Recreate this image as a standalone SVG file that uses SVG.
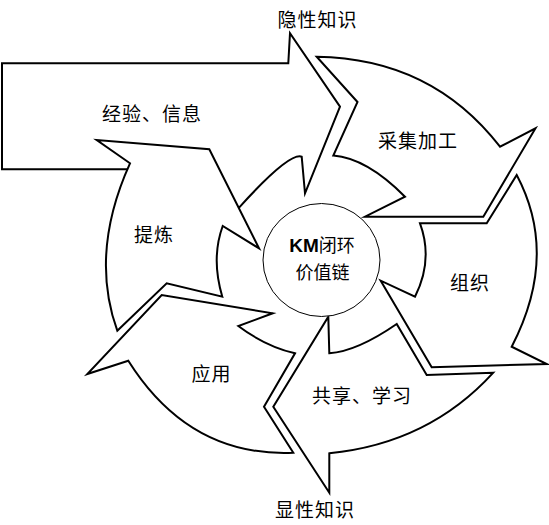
<svg xmlns="http://www.w3.org/2000/svg" width="549" height="525" viewBox="0 0 549 525">
<style>
.arrow{fill:#fff;stroke:#000;stroke-width:2;stroke-linejoin:miter;stroke-miterlimit:10}
.hub{fill:#fff;stroke:#000;stroke-width:1}
.label{font-family:"Noto Sans CJK SC","Noto Sans",sans-serif;font-size:19px;text-anchor:middle;fill:#000;letter-spacing:1px}
.hubtext{font-size:18px;letter-spacing:0}
.km{font-family:"Liberation Sans",Arial,sans-serif;font-weight:bold;font-size:19px}
</style>
<rect x="0" y="0" width="549" height="525" fill="#fff"/>
<g id="node-jingyan">
<path class="arrow" d="M2,63.3 L288.3,63.3 L290,33.3 L340,106.7 L305,193.3 L301.7,156.7 Q289.5,152 239.3,207.3 L150,169.3 L2,169.3 Z"/>
<text class="label" x="152" y="120.5">经验、信息</text>
</g>
<g id="node-tilian">
<path class="arrow" d="M117.3,330.7 L166.7,283.3 L222.3,296.7 Q210.9,258.65 222.7,226 L259,248.3 L209.3,149.3 L96.7,140 L130,163.3 Q89.35,253 117.3,330.7 Z"/>
<text class="label" x="154" y="242">提炼</text>
</g>
<g id="node-caiji">
<path class="arrow" d="M316.7,56.7 Q431.65,58.3 500,146.7 L535.5,128.3 L483.3,216.7 L365,216.7 L405,196.7 Q366.85,158.15 333.3,155.5 L357.5,102 Z"/>
<text class="label" x="418" y="147.5">采集加工</text>
</g>
<g id="node-zuzhi">
<path class="arrow" d="M516.7,175 Q559.2,255.15 511.7,346.7 L546.7,364 L431.7,367.3 L380.7,280.7 L415,296.7 Q433.5,260 420,223.3 L486.7,223.3 Z"/>
<text class="label" x="470" y="289.5">组织</text>
</g>
<g id="node-gongxiang">
<path class="arrow" d="M493.3,372.7 L426.7,375 L396.7,324 Q357,351.35 329.3,353.3 L328.3,316.7 L273.3,406.7 L329.3,492.7 L329.3,453.3 Q428.7,443.6 493.3,372.7 Z"/>
<text class="label" x="362" y="403">共享、学习</text>
</g>
<g id="node-yingyong">
<path class="arrow" d="M293.3,452.7 L264,406.7 L295,353.3 Q265.35,346.35 238.3,326 L272.7,313.3 L161.7,295 L87.3,374 L128.3,360.7 Q189.2,457.3 293.3,452.7 Z"/>
<text class="label" x="211.5" y="380.5">应用</text>
</g>
<g id="node-hub">
<ellipse class="hub" cx="321.5" cy="260" rx="58.5" ry="56.5"/>
<text class="label hubtext" x="322" y="251.5"><tspan class="km">KM</tspan>闭环</text>
<text class="label hubtext" x="322.5" y="278.5">价值链</text>
</g>
<g id="node-tacit">
<text class="label" x="317.5" y="26.5">隐性知识</text>
</g>
<g id="node-explicit">
<text class="label" x="315" y="516.5">显性知识</text>
</g>
<g id="connectors"/>
</svg>
